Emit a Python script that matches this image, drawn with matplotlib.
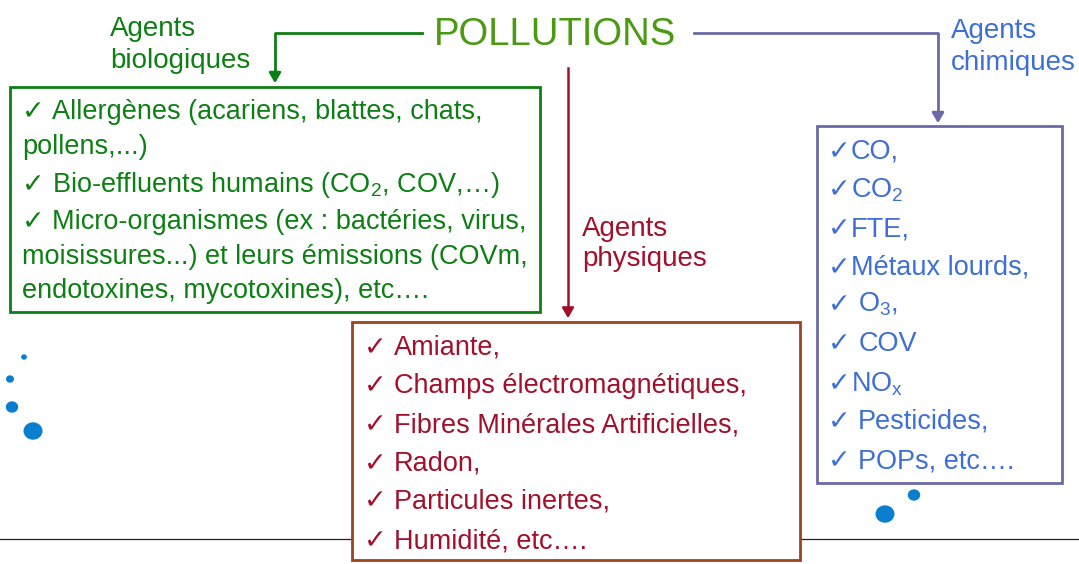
import matplotlib
matplotlib.use("Agg")
import matplotlib.pyplot as plt
from matplotlib.patches import Rectangle, Ellipse

plt.rcParams["font.family"] = ["Liberation Sans", "DejaVu Sans"]
plt.rcParams["mathtext.fontset"] = "custom"
plt.rcParams["mathtext.rm"] = "Liberation Sans"
plt.rcParams["mathtext.it"] = "Liberation Sans"

W, H = 1079, 564

# --- contenu du schéma ---
title = "POLLUTIONS"
bio_label = "Agents\nbiologiques"
phys_label = "Agents\nphysiques"
chim_label = "Agents\nchimiques"

bio_lines = [
    "✓ Allergènes (acariens, blattes, chats,",
    "pollens,...)",
    "✓ Bio-effluents humains (CO$_2$, COV,…)",
    "✓ Micro-organismes (ex : bactéries, virus,",
    "moisissures...) et leurs émissions (COVm,",
    "endotoxines, mycotoxines), etc….",
]
bio_y = [119, 154, 192, 229, 264, 298]

phys_lines = [
    "✓ Amiante,",
    "✓ Champs électromagnétiques,",
    "✓ Fibres Minérales Artificielles,",
    "✓ Radon,",
    "✓ Particules inertes,",
    "✓ Humidité, etc….",
]
phys_y = [355, 393, 432, 471, 508, 548]

chim_lines = [
    "✓CO,",
    "✓CO$_2$",
    "✓FTE,",
    "✓Métaux lourds,",
    "✓ O$_3$,",
    "✓ COV",
    "✓NO$_x$",
    "✓ Pesticides,",
    "✓ POPs, etc….",
]
chim_y = [159, 197, 236, 275, 312, 351, 391, 429, 468]

# points décoratifs (x, y, diamètre)
dots_x = [24, 10, 12, 33, 914, 885]
dots_y = [357, 379, 407, 431, 495, 514]
dots_d = [4, 6, 10, 16, 10, 16]

GREEN_T = "#4a9a12"
GREEN = "#0e7f14"
RED = "#a3102c"
BROWN = "#a0421c"
PURPLE = "#6a6aa6"
BLUE = "#3d6fd6"
DOT = "#0a7fcf"
FS = 19.5

fig = plt.figure(figsize=(W / 100, H / 100), dpi=100)
ax = fig.add_axes([0, 0, 1, 1])
ax.set_xlim(0, W)
ax.set_ylim(H, 0)
ax.axis("off")
renderer = fig.canvas.get_renderer()


def text_width(s):
    t = ax.text(0, 0, s, fontsize=FS)
    w = t.get_window_extent(renderer).width
    t.remove()
    return w


def draw_lines(lines, ys, x0, color):
    # la coche est dessinée à part (absente de la police mathtext)
    w_check = text_width("✓")
    w_gap = text_width("✓ x") - text_width("✓x")
    for s, y in zip(lines, ys):
        x = x0
        if s.startswith("✓"):
            ax.text(x, y, "✓", color=color, fontsize=FS, ha="left",
                    va="baseline", zorder=4)
            s = s[1:]
            x += w_check
            if s.startswith(" "):
                x += w_gap
                s = s.lstrip()
        ax.text(x, y, s, color=color, fontsize=FS, ha="left",
                va="baseline", zorder=4)


# ligne de base
ax.plot([0, W], [539, 539], color="#222222", lw=0.9, zorder=1)

# titre
ax.text(555, 35, title, color=GREEN_T, fontsize=27.5, ha="center", va="center")

arrow = dict(arrowstyle="-|>,head_width=0.35,head_length=0.6")

# flèche verte
ax.plot([422, 275, 275], [33, 33, 75], color=GREEN, lw=2, zorder=2)
ax.annotate("", xy=(275, 86), xytext=(275, 70),
            arrowprops=dict(arrow, color=GREEN, lw=2))
ax.text(110, 45, bio_label, color=GREEN, fontsize=20, ha="left",
        va="center", linespacing=1.25)

# flèche rouge
ax.plot([568, 568], [68, 310], color=RED, lw=1.8, zorder=2)
ax.annotate("", xy=(568, 321), xytext=(568, 305),
            arrowprops=dict(arrow, color=RED, lw=1.8))
ax.text(582, 244, phys_label, color=RED, fontsize=20, ha="left",
        va="center", linespacing=1.25)

# flèche violette
ax.plot([694, 938, 938], [33, 33, 115], color=PURPLE, lw=2, zorder=2)
ax.annotate("", xy=(938, 126), xytext=(938, 110),
            arrowprops=dict(arrow, color=PURPLE, lw=2))
ax.text(951, 47, chim_label, color=BLUE, fontsize=20, ha="left",
        va="center", linespacing=1.25)

# cadres
ax.add_patch(Rectangle((10, 87), 530, 225, fc="white", ec=GREEN, lw=2, zorder=3))
ax.add_patch(Rectangle((352, 322), 448, 238, fc="white", ec=BROWN, lw=2, zorder=3))
ax.add_patch(Rectangle((817, 126), 245, 357, fc="white", ec=PURPLE, lw=2, zorder=3))

draw_lines(bio_lines, bio_y, 22, GREEN)
draw_lines(phys_lines, phys_y, 364, RED)
draw_lines(chim_lines, chim_y, 828, BLUE)

for x, y, d in zip(dots_x, dots_y, dots_d):
    ax.add_patch(Ellipse((x, y), d * 1.1, d, color=DOT, zorder=2))

fig.savefig("out.png", dpi=100, facecolor="white")
